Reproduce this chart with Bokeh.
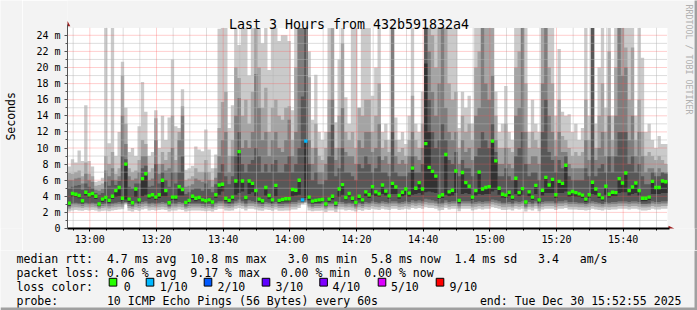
import math
import re
import datetime as dt
from bokeh.plotting import figure
from bokeh.layouts import column, row
from bokeh.models import Range1d, FixedTicker, DatetimeTickFormatter
from bokeh.core.properties import value
from bokeh.embed import file_html
from bokeh.resources import INLINE

# ---------------- data (milliseconds, one sample per minute) ----------------
median = [3.15, 4.35, 4.25, 4.1, 3.45, 4.5, 4.2, 4.35, 4.0, 3.05,
          3.65, 3.85, 3.5, 4.0, 4.7, 5.1, 3.75, 8.0, 3.65, 3.2,
          4.9, 3.55, 6.2, 6.8, 4.05, 4.2, 3.9, 4.2, 6.0, 4.7,
          3.2, 3.9, 3.9, 5.2, 4.85, 3.25, 3.5, 4.0, 3.75, 3.85,
          3.55, 3.45, 3.55, 3.3, 4.2, 5.4, 5.5, 3.75, 3.5, 3.9,
          5.9, 9.55, 5.9, 3.85, 5.9, 5.6, 4.7, 3.65, 3.45, 5.1,
          4.1, 3.55, 5.35, 3.5, 3.6, 3.7, 3.7, 4.85, 4.75, 6.0,
          3.55, 10.85, 3.9, 3.4, 3.5, 3.55, 3.6, 3.05, 3.65, 4.0,
          3.15, 4.9, 5.45, 3.85, 4.35, 3.75, 3.25, 4.0, 3.55, 4.55,
          4.2, 5.2, 4.55, 4.3, 5.4, 4.65, 4.05, 5.6, 5.15, 4.1,
          4.5, 4.9, 4.4, 7.5, 5.0, 5.7, 4.9, 10.55, 7.6, 7.1,
          6.5, 4.0, 4.2, 9.2, 4.55, 4.75, 7.15, 3.5, 6.95, 5.7,
          5.25, 3.9, 4.7, 7.0, 4.9, 5.1, 5.2, 10.85, 8.4, 5.0,
          4.25, 4.15, 4.5, 3.9, 6.25, 4.45, 4.95, 3.3, 4.55, 3.9,
          5.35, 3.55, 4.75, 6.35, 5.4, 6.1, 4.2, 5.85, 5.6, 7.85,
          4.4, 4.6, 4.45, 4.3, 4.15, 3.65, 4.2, 5.75, 4.9, 4.2,
          3.8, 5.25, 4.25, 4.5, 4.45, 6.2, 5.65, 6.9, 4.7, 5.15,
          5.65, 4.7, 3.75, 3.75, 3.9, 5.85, 5.1, 5.1, 5.9, 5.8]

# lost pings per minute (only non-zero minutes listed)
loss_events = {70: 1, 71: 1}

# sorted ping values: ping1 (fastest) ... ping10 (slowest)
ping10 = [7.7, 8.6, 8.2, 9.7, 8.4, 15.3, 8.4, 7.7, 5.8, 5.9,
          6.3, 26, 10.6, 26, 9.0, 12.0, 20.7, 15.0, 9.5, 10.0,
          9.0, 12.7, 18.2, 14.5, 9.0, 9.5, 14.7, 10.0, 14.0, 11.0,
          13.8, 21.0, 12.7, 12.5, 17.3, 7.3, 7.5, 7.8, 10.2, 9.8,
          9.6, 12.3, 9.8, 7.5, 9.2, 24.8, 26, 26, 12.5, 15.3,
          26, 22.8, 26, 26, 19.0, 26, 26, 26, 23.0, 26,
          19.7, 26, 26, 23.3, 24, 24, 23.3, 14.7, 26, 26,
          26, 26, 22, 13.5, 19.1, 12.0, 11.0, 12, 26, 26,
          13.2, 21, 26, 16.3, 13, 26, 26, 15, 26, 26,
          26, 16.5, 20, 26, 12, 13, 11, 26, 13.8, 11,
          12, 10.5, 14, 26, 13, 12, 17, 26, 26, 26,
          26, 26, 26, 26, 26, 26, 26, 12.5, 17, 15,
          16.5, 13, 26, 26, 26, 26, 26, 26, 17, 12,
          13, 17.7, 12, 11, 26, 26, 26, 26, 12, 16,
          13, 12, 26, 26, 26, 26, 14, 22.3, 14.5, 14,
          14.2, 12, 13, 11, 12.5, 26, 14, 26, 13, 20,
          26, 15, 26, 14, 26, 26, 26, 26, 26, 26,
          14, 26, 21.2, 12, 13, 11, 10, 11.5, 10.5, 10.5]

ping9 = [6.9, 6.8, 7.0, 7.2, 6.5, 8.2, 6.8, 6.5, 5.3, 5.4,
         5.6, 9.0, 8.0, 9.5, 6.8, 7.5, 19.0, 13.0, 7.5, 7.0,
         7.2, 8.5, 11.0, 10.5, 7.0, 7.5, 13.7, 8.0, 9.5, 8.5,
         9.5, 14.0, 8.5, 12.0, 15.2, 6.0, 6.2, 6.5, 7.5, 7.0,
         7.0, 8.5, 7.0, 6.0, 7.5, 12.5, 15.7, 17.0, 9.0, 11.0,
         20.0, 18.7, 14.0, 16.0, 13.0, 17.0, 26.0, 20.0, 15.0, 17.5,
         12.0, 15.0, 16.0, 14.0, 13.5, 15.0, 15.2, 11.0, 20.0, 26.0,
         26.0, 26.0, 18.8, 10.0, 13.0, 9.0, 8.5, 10.0, 16.0, 26.0,
         10.0, 14.0, 23.0, 12.0, 11.0, 12.0, 10.0, 15.0, 14.0, 16.0,
         16.0, 12.0, 14.0, 18.0, 10.0, 11.0, 9.5, 26.0, 11.0, 9.5,
         10.0, 9.0, 11.0, 16.5, 11.0, 10.0, 13.0, 26.0, 26.0, 24.0,
         20.0, 26.0, 26.0, 26.0, 18.0, 16.0, 17.0, 10.0, 14.0, 12.0,
         13.0, 11.0, 20.0, 22.0, 26.0, 26.0, 26.0, 26.0, 14.0, 10.0,
         10.0, 13.0, 10.0, 9.5, 20.0, 22.0, 26.0, 18.0, 10.0, 12.0,
         11.0, 10.0, 26.0, 26.0, 20.0, 18.0, 11.0, 16.0, 11.5, 11.0,
         10.0, 9.0, 9.5, 9.0, 9.5, 16.0, 11.0, 26.0, 10.0, 14.0,
         18.0, 12.0, 22.0, 11.0, 20.0, 26.0, 26.0, 22.5, 16.0, 22.5,
         11.0, 16.0, 12.0, 9.0, 9.5, 9.0, 8.5, 9.0, 8.5, 8.0]

ping8 = [6.0, 6.0, 6.2, 6.3, 5.6, 6.8, 6.0, 5.8, 4.8, 4.7,
         4.9, 7.2, 6.5, 7.5, 6.0, 6.5, 14.0, 10.5, 6.5, 6.0,
         6.2, 7.0, 9.0, 9.0, 6.0, 6.2, 11.0, 6.8, 8.0, 7.2,
         7.5, 10.0, 7.0, 11.0, 14.0, 5.2, 5.3, 5.5, 6.2, 6.0,
         5.8, 7.0, 6.0, 5.2, 6.3, 9.0, 11.0, 12.0, 7.0, 9.0,
         14.0, 16.2, 10.0, 11.0, 10.0, 12.0, 19.2, 15.0, 11.0, 12.0,
         9.0, 11.0, 12.0, 10.0, 9.5, 11.0, 13.5, 9.0, 12.0, 26.0,
         26.0, 26.0, 11.0, 8.0, 10.0, 7.0, 7.0, 8.0, 12.0, 16.0,
         8.5, 10.0, 15.0, 9.5, 9.0, 9.0, 8.0, 11.0, 10.0, 12.0,
         12.0, 9.5, 10.0, 13.0, 8.5, 9.0, 8.0, 26.0, 9.0, 8.0,
         8.5, 8.0, 9.0, 12.0, 9.0, 8.5, 10.0, 26.0, 22.0, 17.0,
         14.0, 18.0, 26.0, 15.0, 12.0, 11.0, 12.0, 8.0, 11.0, 9.5,
         10.0, 8.5, 14.0, 15.0, 26.0, 18.0, 16.0, 19.0, 11.0, 8.0,
         8.0, 10.0, 8.0, 7.5, 14.0, 15.0, 26.0, 12.0, 8.0, 9.0,
         9.0, 8.0, 18.0, 26.0, 14.0, 12.0, 9.0, 12.0, 9.5, 9.5,
         8.0, 7.5, 7.5, 7.5, 7.5, 11.0, 8.5, 26.0, 8.5, 10.0,
         12.0, 9.0, 14.0, 9.0, 14.0, 26.0, 19.0, 20.0, 11.0, 14.0,
         9.0, 12.0, 9.0, 7.0, 7.5, 7.5, 7.0, 7.5, 7.0, 7.0]

ping7 = [5.0, 5.2, 5.3, 5.4, 4.8, 5.6, 5.2, 5.0, 4.4, 4.2,
         4.4, 5.8, 5.3, 6.0, 5.4, 5.9, 9.0, 8.6, 5.2, 5.0,
         5.6, 5.6, 7.5, 7.8, 5.2, 5.3, 8.0, 5.6, 7.0, 6.0,
         5.2, 7.0, 5.6, 7.0, 9.0, 4.3, 4.5, 4.8, 5.0, 5.0,
         4.7, 5.6, 4.9, 4.5, 5.5, 7.0, 8.0, 6.5, 5.5, 6.5,
         9.0, 12.0, 8.0, 7.0, 8.0, 8.5, 10.0, 9.0, 7.0, 8.0,
         7.0, 8.0, 8.5, 7.0, 7.0, 8.0, 9.0, 7.0, 8.0, 10.0,
         16.4, 26.0, 8.0, 6.0, 7.0, 5.5, 5.5, 6.0, 9.0, 12.9,
         6.5, 7.5, 10.0, 7.0, 7.0, 6.5, 6.0, 8.0, 7.5, 9.0,
         8.0, 7.0, 7.5, 9.0, 7.0, 7.0, 6.5, 12.0, 7.0, 6.5,
         6.5, 6.5, 7.0, 9.0, 7.0, 7.0, 8.0, 26.0, 16.0, 12.0,
         10.0, 11.0, 13.0, 11.0, 8.5, 8.0, 9.5, 6.5, 8.5, 7.5,
         7.5, 6.5, 9.0, 10.0, 12.0, 11.0, 10.0, 13.0, 9.5, 6.5,
         6.5, 7.5, 6.5, 6.0, 9.0, 10.0, 12.0, 8.0, 6.5, 7.0,
         7.0, 6.0, 12.0, 16.0, 9.5, 8.5, 7.0, 8.5, 7.5, 9.0,
         6.5, 6.0, 6.0, 6.0, 6.0, 7.5, 6.5, 26.0, 6.5, 7.5,
         8.0, 7.0, 9.0, 7.0, 9.0, 12.0, 12.0, 12.0, 8.0, 9.0,
         7.0, 8.0, 6.5, 5.5, 5.5, 7.0, 6.5, 6.5, 7.0, 6.8]

ping6 = [3.15, 4.35, 4.25, 4.1, 3.45, 4.5, 4.2, 4.35, 4.0, 3.05,
         3.65, 3.85, 3.5, 4.0, 4.7, 5.1, 3.75, 8.0, 3.65, 3.2,
         4.9, 3.55, 6.2, 6.8, 4.05, 4.2, 3.9, 4.2, 6.0, 4.7,
         3.2, 3.9, 3.9, 5.2, 4.85, 3.25, 3.5, 4.0, 3.75, 3.85,
         3.55, 3.45, 3.55, 3.3, 4.2, 5.4, 5.5, 3.75, 3.5, 3.9,
         5.9, 9.55, 5.9, 3.85, 5.9, 5.6, 4.7, 3.65, 3.45, 5.1,
         4.1, 3.55, 5.35, 3.5, 3.6, 3.7, 3.7, 4.85, 4.75, 6.0,
         3.55, 10.85, 3.9, 3.4, 3.5, 3.55, 3.6, 3.05, 3.65, 4.0,
         3.15, 4.9, 5.45, 3.85, 4.35, 3.75, 3.25, 4.0, 3.55, 4.55,
         4.2, 5.2, 4.55, 4.3, 5.4, 4.65, 4.05, 5.6, 5.15, 4.1,
         4.5, 4.9, 4.4, 7.5, 5.0, 5.7, 4.9, 20.5, 12.0, 7.1,
         6.5, 4.0, 4.2, 9.2, 4.55, 4.75, 7.15, 3.5, 6.95, 5.7,
         5.25, 3.9, 4.7, 7.0, 4.9, 5.1, 5.2, 10.85, 8.4, 5.0,
         4.25, 4.15, 4.5, 3.9, 6.25, 4.45, 4.95, 3.3, 4.55, 3.9,
         5.35, 3.55, 4.75, 6.35, 5.4, 6.1, 4.2, 5.85, 5.6, 7.85,
         4.4, 4.6, 4.45, 4.3, 4.15, 3.65, 4.2, 5.75, 4.9, 4.2,
         3.8, 5.25, 4.25, 4.5, 4.45, 6.2, 5.65, 6.9, 4.7, 5.15,
         5.65, 4.7, 3.75, 3.75, 3.9, 5.85, 5.1, 5.1, 5.9, 5.8]

ping5 = [2.85, 3.95, 3.9, 3.75, 3.15, 4.1, 3.85, 3.95, 3.65, 2.8,
         3.3, 3.5, 3.2, 3.65, 3.9, 4.0, 3.4, 3.6, 3.3, 2.9,
         3.9, 3.2, 4.0, 4.2, 3.7, 3.85, 3.55, 3.8, 4.0, 4.0,
         2.9, 3.55, 3.5, 4.1, 4.1, 2.95, 3.2, 3.6, 3.4, 3.5,
         3.25, 3.15, 3.25, 3.0, 3.8, 4.2, 4.6, 3.4, 3.2, 3.5,
         4.2, 4.4, 4.6, 3.5, 4.3, 4.5, 4.0, 3.3, 3.15, 4.1,
         3.7, 3.2, 4.0, 3.2, 3.3, 3.35, 3.35, 4.0, 4.1, 4.2,
         3.35, 3.8, 3.5, 3.1, 3.2, 3.2, 3.3, 2.8, 3.3, 3.6,
         2.85, 3.9, 4.2, 3.5, 3.9, 3.4, 2.95, 3.6, 3.25, 4.0,
         3.8, 4.2, 4.0, 3.9, 4.3, 4.1, 3.7, 4.3, 4.3, 3.7,
         4.0, 4.2, 3.95, 4.2, 4.3, 4.4, 4.2, 4.5, 4.6, 4.5,
         4.4, 3.65, 3.8, 4.2, 4.0, 4.1, 4.4, 3.2, 4.3, 4.4,
         4.3, 3.55, 4.1, 4.3, 4.2, 4.3, 4.3, 4.6, 4.8, 4.2,
         3.85, 3.8, 4.0, 3.55, 4.3, 4.0, 4.2, 3.0, 4.0, 3.55,
         4.3, 3.2, 4.1, 4.4, 4.4, 4.4, 3.8, 4.4, 4.4, 4.6,
         3.95, 4.05, 3.95, 3.9, 3.8, 3.3, 3.8, 4.3, 4.2, 3.8,
         3.45, 4.2, 3.85, 4.0, 4.0, 4.4, 4.5, 4.5, 4.1, 4.3,
         4.4, 4.1, 3.4, 3.4, 3.55, 4.3, 4.3, 4.3, 4.4, 4.4]

ping4 = [2.8, 3.1, 3.2, 3.1, 3.0, 3.2, 3.1, 3.2, 3.1, 2.75,
         3.0, 3.1, 2.95, 3.1, 3.2, 3.3, 3.1, 3.3, 3.0, 2.9,
         3.2, 3.0, 3.3, 3.4, 3.1, 3.2, 3.1, 3.2, 3.3, 3.2,
         2.85, 3.1, 3.1, 3.3, 3.2, 2.85, 3.0, 3.1, 3.1, 3.1,
         3.0, 2.9, 3.0, 2.85, 3.2, 3.4, 3.4, 3.1, 3.0, 3.1,
         3.4, 3.6, 3.4, 3.1, 3.5, 3.4, 3.3, 3.1, 3.0, 3.3,
         3.2, 3.0, 3.3, 3.0, 3.0, 3.1, 3.1, 3.3, 3.3, 3.5,
         3.3, 3.5, 3.1, 2.9, 3.0, 3.0, 3.1, 2.75, 3.1, 3.1,
         2.8, 3.3, 3.3, 3.1, 3.2, 3.1, 2.85, 3.2, 3.0, 3.3,
         3.2, 3.4, 3.3, 3.2, 3.4, 3.3, 3.2, 3.4, 3.4, 3.2,
         3.3, 3.4, 3.3, 3.5, 3.4, 3.5, 3.4, 3.7, 3.6, 3.5,
         3.4, 3.1, 3.2, 3.5, 3.3, 3.4, 3.4, 2.95, 3.4, 3.4,
         3.4, 3.1, 3.3, 3.4, 3.3, 3.4, 3.4, 3.6, 3.5, 3.4,
         3.2, 3.2, 3.3, 3.1, 3.4, 3.3, 3.4, 2.85, 3.3, 3.1,
         3.4, 2.95, 3.3, 3.4, 3.4, 3.4, 3.2, 3.4, 3.4, 3.5,
         3.3, 3.3, 3.3, 3.2, 3.2, 3.05, 3.2, 3.4, 3.3, 3.2,
         3.05, 3.3, 3.2, 3.3, 3.3, 3.4, 3.4, 3.4, 3.3, 3.4,
         3.4, 3.3, 3.05, 3.05, 3.1, 3.4, 3.3, 3.3, 3.4, 3.4]

ping3 = [2.6, 2.9, 2.95, 2.9, 2.8, 2.95, 2.9, 2.95, 2.85, 2.6,
         2.8, 2.85, 2.75, 2.85, 2.95, 3.0, 2.9, 3.2, 2.8, 2.7,
         2.95, 2.8, 3.0, 3.1, 2.85, 2.95, 2.85, 2.95, 3.0, 2.95,
         2.65, 2.85, 2.85, 3.0, 2.95, 2.65, 2.8, 2.85, 2.85, 2.85,
         2.8, 2.7, 2.8, 2.65, 2.95, 3.1, 3.1, 2.85, 2.8, 2.85,
         3.1, 3.2, 3.1, 2.85, 3.1, 3.1, 3.0, 2.85, 2.8, 3.0,
         2.95, 2.8, 3.0, 2.8, 2.8, 2.85, 2.85, 3.0, 3.0, 3.2,
         3.2, 3.3, 2.85, 2.7, 2.8, 2.8, 2.85, 2.6, 2.85, 2.85,
         2.6, 3.0, 3.0, 2.85, 2.95, 2.85, 2.65, 2.95, 2.8, 3.0,
         2.95, 3.1, 3.0, 2.95, 3.1, 3.0, 2.95, 3.1, 3.1, 2.95,
         3.0, 3.1, 3.0, 3.2, 3.1, 3.2, 3.1, 3.3, 3.2, 3.2,
         3.1, 2.85, 2.95, 3.2, 3.0, 3.1, 3.1, 2.75, 3.1, 3.1,
         3.1, 2.85, 3.0, 3.1, 3.0, 3.1, 3.1, 3.3, 3.2, 3.1,
         2.95, 2.95, 3.0, 2.85, 3.1, 3.0, 3.1, 2.65, 3.0, 2.85,
         3.1, 2.75, 3.0, 3.1, 3.1, 3.1, 2.95, 3.1, 3.1, 3.2,
         3.0, 3.0, 3.0, 2.95, 2.95, 2.85, 2.95, 3.1, 3.0, 2.95,
         2.85, 3.0, 2.95, 3.0, 3.0, 3.1, 3.1, 3.1, 3.0, 3.1,
         3.1, 3.0, 2.85, 2.85, 2.9, 3.1, 3.0, 3.0, 3.1, 3.1]

ping2 = [2.4, 2.6, 2.65, 2.6, 2.55, 2.65, 2.6, 2.65, 2.6, 2.4,
         2.55, 2.6, 2.5, 2.6, 2.65, 2.7, 2.65, 3.1, 2.55, 2.45,
         2.65, 2.55, 2.7, 2.8, 2.6, 2.65, 2.6, 2.65, 2.7, 2.65,
         2.45, 2.6, 2.6, 2.7, 2.65, 2.45, 2.55, 2.6, 2.6, 2.6,
         2.55, 2.5, 2.55, 2.45, 2.65, 2.8, 2.8, 2.6, 2.55, 2.6,
         2.8, 2.9, 2.8, 2.6, 2.8, 2.8, 2.7, 2.6, 2.55, 2.7,
         2.65, 2.55, 2.7, 2.55, 2.55, 2.6, 2.6, 2.7, 2.7, 2.9,
         3.1, 3.2, 2.6, 2.5, 2.55, 2.55, 2.6, 2.4, 2.6, 2.6,
         2.4, 2.7, 2.7, 2.6, 2.65, 2.6, 2.45, 2.65, 2.55, 2.7,
         2.65, 2.8, 2.7, 2.65, 2.8, 2.7, 2.65, 2.8, 2.8, 2.65,
         2.7, 2.8, 2.7, 2.9, 2.8, 2.9, 2.8, 3.0, 2.9, 2.9,
         2.8, 2.6, 2.65, 2.9, 2.7, 2.8, 2.8, 2.5, 2.8, 2.8,
         2.8, 2.6, 2.7, 2.8, 2.7, 2.8, 2.8, 3.0, 2.9, 2.8,
         2.65, 2.65, 2.7, 2.6, 2.8, 2.7, 2.8, 2.45, 2.7, 2.6,
         2.8, 2.5, 2.7, 2.8, 2.8, 2.8, 2.65, 2.8, 2.8, 2.9,
         2.7, 2.7, 2.7, 2.65, 2.65, 2.6, 2.65, 2.8, 2.7, 2.65,
         2.6, 2.7, 2.65, 2.7, 2.7, 2.8, 2.8, 2.8, 2.7, 2.8,
         2.8, 2.7, 2.6, 2.6, 2.65, 2.8, 2.7, 2.7, 2.8, 2.8]

ping1 = [2.1, 2.25, 2.3, 2.25, 2.2, 2.3, 2.25, 2.3, 2.25, 2.1,
         2.2, 2.25, 2.15, 2.25, 2.3, 2.35, 2.4, 3.05, 2.2, 2.1,
         2.3, 2.2, 2.35, 2.45, 2.25, 2.3, 2.25, 2.3, 2.35, 2.3,
         2.1, 2.25, 2.25, 2.35, 2.3, 2.1, 2.2, 2.25, 2.25, 2.25,
         2.2, 2.15, 2.2, 2.1, 2.3, 2.45, 2.45, 2.25, 2.2, 2.25,
         2.45, 2.55, 2.45, 2.25, 2.45, 2.45, 2.35, 2.25, 2.2, 2.35,
         2.3, 2.2, 2.35, 2.2, 2.2, 2.25, 2.25, 2.35, 2.35, 2.55,
         3.0, 3.1, 2.25, 2.15, 2.2, 2.2, 2.25, 2.05, 2.25, 2.25,
         2.05, 2.35, 2.35, 2.25, 2.3, 2.25, 2.1, 2.3, 2.2, 2.35,
         2.3, 2.45, 2.35, 2.3, 2.45, 2.35, 2.3, 2.45, 2.45, 2.3,
         2.35, 2.45, 2.35, 2.55, 2.45, 2.55, 2.45, 2.65, 2.55, 2.55,
         2.45, 2.25, 2.3, 2.55, 2.35, 2.45, 2.45, 2.15, 2.45, 2.45,
         2.45, 2.25, 2.35, 2.45, 2.35, 2.45, 2.45, 2.65, 2.55, 2.45,
         2.3, 2.3, 2.35, 2.25, 2.45, 2.35, 2.45, 2.1, 2.35, 2.25,
         2.45, 2.15, 2.35, 2.45, 2.45, 2.45, 2.3, 2.45, 2.45, 2.55,
         2.35, 2.35, 2.35, 2.3, 2.3, 2.25, 2.3, 2.45, 2.35, 2.3,
         2.25, 2.35, 2.3, 2.35, 2.35, 2.45, 2.45, 2.45, 2.35, 2.45,
         2.45, 2.35, 2.25, 2.25, 2.3, 2.45, 2.35, 2.35, 2.45, 2.45]

y_ticks = [0, 2, 4, 6, 8, 10, 12, 14, 16, 18, 20, 22, 24]
y_tick_labels = ["0", "2 m", "4 m", "6 m", "8 m", "10 m", "12 m", "14 m",
                 "16 m", "18 m", "20 m", "22 m", "24 m"]

loss_labels = ["0", "1/10", "2/10", "3/10", "4/10", "5/10", "9/10"]
loss_colors = ["#26ff00", "#00b8ff", "#0059ff", "#5e00ff", "#7e00ff", "#dd00ff", "#ff0000"]
loss_color_by_count = {0: "#26ff00", 1: "#00b8ff", 2: "#0059ff", 3: "#5e00ff",
                       4: "#7e00ff", 5: "#dd00ff", 9: "#ff0000"}

TITLE = "Last 3 Hours from 432b591832a4"
ROW1 = "median rtt:  4.7 ms avg  10.8 ms max   3.0 ms min  5.8 ms now  1.4 ms sd   3.4   am/s"
ROW2 = "packet loss: 0.06 % avg  9.17 % max   0.00 % min  0.00 % now"
ROW3 = "loss color:"
ROW4 = "probe:       10 ICMP Echo Pings (56 Bytes) every 60s"
END_TXT = "end: Tue Dec 30 15:52:55 2025"

# ---------------- geometry ----------------
EPOCH = dt.datetime(1970, 1, 1)


def to_ms(d):
    return (d - EPOCH).total_seconds() * 1000.0


START = dt.datetime(2025, 12, 30, 12, 53, 18)
MIN = 60000.0
N = len(median)
t_left = [to_ms(START) + i * MIN for i in range(N)]
t_right = [t + MIN for t in t_left]
edges = t_left + [t_right[-1]]

W, H = 697, 310
LEFT_W = 22          # strip holding the "Seconds" label
RB_W = 3             # right frame border
MAIN_H = 250         # graph part (legend below)
FL, FR, FT, FB = 67, W - RB_W, 0, 228   # page coordinates of the main frame
PX_MIN = 600.0 / 180.0
PX_MS = 8.05
X0 = to_ms(START)
X1 = X0 + (FR - FL) / PX_MIN * MIN
YTOP = (FB - FT) / PX_MS
YMAX = 24.92


def dx(px):
    return X0 + (px - FL) / PX_MIN * MIN


def dy(py):
    return (FB - py) / PX_MS


BG = "#f3f3f3"
EDGE = "#a0a0a0"
FONT = "DejaVu Sans Mono"
CW = 0.602 * 11.55   # advance of one monospace character in the legend


def segments(s):
    """split a fixed-width line into pieces at runs of 2+ spaces: (column, text)"""
    return [(m.start(), m.group()) for m in re.finditer(r"\S+(?: \S+)*", s)]


p = figure(width=FR - LEFT_W, height=MAIN_H, output_backend="svg", toolbar_location=None,
           title=None, x_axis_type="datetime", x_range=Range1d(X0, X1),
           y_range=Range1d(0, YTOP), min_border_left=FL - LEFT_W, min_border_right=0,
           min_border_top=0, min_border_bottom=MAIN_H - FB, background_fill_color=BG,
           border_fill_color=BG, outline_line_color=None)
p.grid.visible = False

# graph area
p.quad(left=[edges[0]], right=[edges[-1]], bottom=[0], top=[YMAX],
       fill_color="white", line_color=None)

# smoke
lows = [ping1, ping2, ping3, ping4, ping5]
highs = [ping10, ping9, ping8, ping7, ping6]
greys = ["#cacaca", "#a4a4a4", "#7e7e7e", "#585858", "#323232"]
for lo, hi, c in zip(lows, highs, greys):
    y1 = [min(v, YMAX) for v in lo]
    y2 = [min(v, YMAX) for v in hi]
    p.varea_step(x=edges, y1=y1 + [y1[-1]], y2=y2 + [y2[-1]], step_mode="after",
                 fill_color=c)

# grid (drawn over the smoke, like rrdtool)
x_major = [to_ms(dt.datetime(2025, 12, 30, 13, 0)) + k * 20 * MIN for k in range(9)]
x_minor = [to_ms(dt.datetime(2025, 12, 30, 12, 55)) + k * 5 * MIN for k in range(36)]
x_minor_only = [x for x in x_minor if x not in x_major]
y_minor_only = [v for v in range(1, 25) if v % 2 == 1]
y_major_only = [v for v in y_ticks if v > 0]

GRID_MIN = dict(line_color="#b4b4b4", line_width=1, line_dash="1 1", line_alpha=0.9)
GRID_MAJ = dict(line_color="#ff5050", line_width=1, line_dash="1 1", line_alpha=0.55)
p.segment(x0=x_minor_only, y0=[0] * len(x_minor_only), x1=x_minor_only,
          y1=[YMAX] * len(x_minor_only), **GRID_MIN)
p.segment(x0=[edges[0]] * len(y_minor_only), y0=y_minor_only,
          x1=[edges[-1]] * len(y_minor_only), y1=y_minor_only, **GRID_MIN)
p.segment(x0=x_major, y0=[0] * len(x_major), x1=x_major, y1=[YMAX] * len(x_major), **GRID_MAJ)
p.segment(x0=[edges[0]] * len(y_major_only), y0=y_major_only,
          x1=[edges[-1]] * len(y_major_only), y1=y_major_only, **GRID_MAJ)

# median markers
med_colors = [loss_color_by_count[loss_events.get(i, 0)] for i in range(N)]
p.quad(left=t_left, right=t_right, bottom=[m - 0.21 for m in median],
       top=[m + 0.21 for m in median], fill_color=med_colors, line_color=None)

# axes
xa = p.xaxis[0]
xa.ticker = FixedTicker(ticks=x_major, minor_ticks=x_minor)
xa.formatter = DatetimeTickFormatter(seconds="%H:%M", minsec="%H:%M", minutes="%H:%M",
                                     hourmin="%H:%M", hours="%H:%M")
xa.bounds = (X0, dx(669))
xa.axis_line_color = "black"
xa.axis_line_width = 2
xa.major_tick_line_color = "black"
xa.minor_tick_line_color = "black"
xa.major_tick_out = 3
xa.major_tick_in = 0
xa.minor_tick_out = 2
xa.minor_tick_in = 0
xa.major_label_standoff = 2
xa.major_label_text_font = FONT
xa.major_label_text_font_size = "10px"
xa.major_label_text_color = "#000000"

ya = p.yaxis[0]
ya.ticker = FixedTicker(ticks=y_ticks, minor_ticks=list(range(0, 25)))
ya.major_label_overrides = {t: s for t, s in zip(y_ticks, y_tick_labels)}
ya.bounds = (0, dy(24))
ya.axis_line_color = "#555555"
ya.axis_line_width = 1
ya.major_tick_line_color = "#555555"
ya.minor_tick_line_color = "#555555"
ya.major_tick_out = 3
ya.major_tick_in = 0
ya.minor_tick_out = 2
ya.minor_tick_in = 0
ya.major_label_standoff = 4
ya.major_label_text_font = FONT
ya.major_label_text_font_size = "10px"
ya.major_label_text_color = "#000000"

# axis arrows
ARROW = "#9c1c1c"
p.patch(x=[dx(64.2), dx(69.8), dx(67)], y=[dy(25.8), dy(25.8), dy(20.6)],
        fill_color=ARROW, line_color=None)
p.patch(x=[dx(668), dx(668), dx(673.8)], y=[dy(225.2), dy(230.8), dy(228)],
        fill_color=ARROW, line_color=None)

# title and vertical credit, inside the main frame area
p.text(x=[dx(348.5)], y=[dy(24)], text=[TITLE], text_font=value(FONT),
       text_font_size=value("13.3px"), text_align="center", text_baseline="alphabetic",
       text_color="#000000")
p.text(x=[dx(688.5)], y=[dy(4)], text=["RRDTOOL / TOBI OETIKER"], text_font=value(FONT),
       text_font_size=value("8.3px"), text_align="left", text_baseline="middle",
       angle=-math.pi / 2, text_color="#b0b0b0")

# ---------------- left strip: "Seconds" ----------------
pl = figure(width=LEFT_W, height=MAIN_H, output_backend="svg", toolbar_location=None,
            title=None, x_range=Range1d(0, LEFT_W), y_range=Range1d(MAIN_H, 0),
            x_axis_location=None, y_axis_location=None, min_border=0,
            background_fill_color=BG, border_fill_color=BG, outline_line_color=None)
pl.grid.visible = False
pl.text(x=[10.5], y=[127], text=["Seconds"], text_font=value(FONT),
        text_font_size=value("11.5px"), text_align="center", text_baseline="middle",
        angle=math.pi / 2, text_color="#000000")

# ---------------- right border strip ----------------
pr = figure(width=RB_W, height=MAIN_H, output_backend="svg", toolbar_location=None,
            title=None, x_range=Range1d(0, RB_W), y_range=Range1d(MAIN_H, 0),
            x_axis_location=None, y_axis_location=None, min_border=0,
            background_fill_color=EDGE, border_fill_color=EDGE, outline_line_color=None)
pr.grid.visible = False

# ---------------- legend below ----------------
LEG_H = H - MAIN_H
pg = figure(width=W, height=LEG_H, output_backend="svg", toolbar_location=None,
            title=None, x_range=Range1d(0, W), y_range=Range1d(LEG_H, 0),
            x_axis_location=None, y_axis_location=None, min_border=0,
            background_fill_color=BG, border_fill_color=BG, outline_line_color=None)
pg.grid.visible = False
LEG = value("11.55px")


def gy(py):
    return py - MAIN_H


seg_x, seg_y, seg_t = [], [], []
for line, base in [(ROW1, 258), (ROW2, 272), (ROW3, 286), (ROW4, 300)]:
    for col, txt in segments(line):
        seg_x.append(16 + col * CW)
        seg_y.append(gy(base))
        seg_t.append(txt)
pg.text(x=seg_x, y=seg_y, text=seg_t, text_font=value(FONT), text_font_size=LEG,
        text_align="left", text_baseline="alphabetic", text_color="#000000")
pg.text(x=[681], y=[gy(300)], text=[END_TXT], text_font=value(FONT), text_font_size=LEG,
        text_align="right", text_baseline="alphabetic", text_color="#000000")

box_left = [108.7, 145.7, 203.7, 261.7, 319.3, 377.7, 435.7]
text_left = [123.2, 159.3, 217.0, 275.0, 332.0, 390.5, 449.0]
pg.quad(left=box_left, right=[b + 7.6 for b in box_left],
        top=[gy(277.8)] * len(box_left), bottom=[gy(285.6)] * len(box_left),
        fill_color=loss_colors, line_color="black", line_width=1)
pg.text(x=text_left, y=[gy(286)] * len(text_left), text=loss_labels, text_font=value(FONT),
        text_font_size=LEG, text_align="left", text_baseline="alphabetic",
        text_color="#000000")

# frame border (right and bottom)
pg.quad(left=[W - RB_W, 0], right=[W, W], top=[0, gy(307)], bottom=[LEG_H, LEG_H],
        fill_color=EDGE, line_color=None)

layout = column(row(pl, p, pr, spacing=0), pg, spacing=0)
open("out.html", "w").write(file_html(layout, INLINE))
